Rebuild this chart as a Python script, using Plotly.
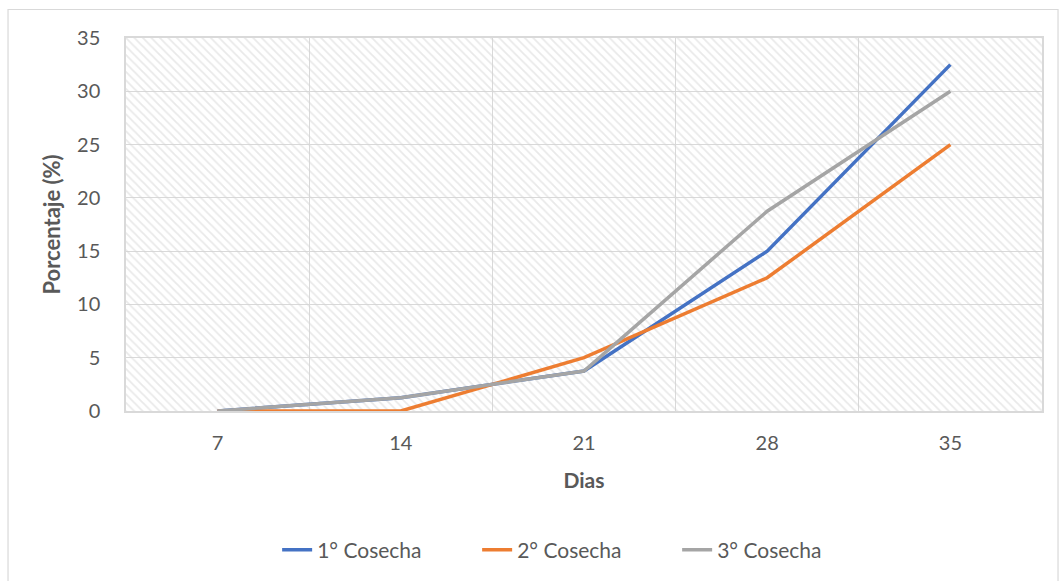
import plotly.graph_objects as go

# Days after harvest and accumulated percentage per harvest
dias = ["7", "14", "21", "28", "35"]
cosecha_1 = [0, 1.25, 3.75, 15, 32.5]
cosecha_2 = [0, 0, 5, 12.5, 25]
cosecha_3 = [0, 1.25, 3.75, 18.75, 30]
y_max = 35
y_ticks = [0, 5, 10, 15, 20, 25, 30, 35]

FONT = "Lato, Open Sans, sans-serif"
TXT = "#595959"
GRID = "#d9d9d9"

fig = go.Figure()

# hatched plot-area background
fig.add_trace(go.Bar(
    x=dias, y=[y_max] * len(dias), width=1,
    marker=dict(color="rgba(0,0,0,0)", line=dict(width=0),
                pattern=dict(shape="\\", fgcolor="#d4d4d4", bgcolor="rgba(0,0,0,0)",
                             size=6, solidity=0.3)),
    showlegend=False, hoverinfo="skip",
))

series = [
    ("1° Cosecha", cosecha_1, "#4472C4"),
    ("2° Cosecha", cosecha_2, "#ED7D31"),
    ("3° Cosecha", cosecha_3, "#A5A5A5"),
]
for name, vals, col in series:
    fig.add_trace(go.Scatter(
        x=dias, y=vals, name=name, mode="lines",
        line=dict(color=col, width=3.5),
    ))

fig.update_layout(
    width=1059, height=581,
    margin=dict(l=126, r=17, t=38, b=169),
    paper_bgcolor="white", plot_bgcolor="white",
    font=dict(family=FONT, size=18, color=TXT),
    bargap=0,
    showlegend=True,
    legend=dict(orientation="h", x=0.165, xanchor="left", y=-0.369, yanchor="middle",
                font=dict(size=21, color=TXT), entrywidth=155, entrywidthmode="pixels",
                tracegroupgap=0),
    shapes=[dict(type="rect", xref="paper", yref="paper",
                 x0=-0.1288, x1=1.0175, y0=-0.6, y1=1.0764,
                 line=dict(color=GRID, width=1.2), layer="below")],
)

fig.update_xaxes(
    type="category", tickson="boundaries", range=[-0.5, len(dias) - 0.5],
    showgrid=True, gridcolor=GRID, gridwidth=1,
    showline=True, linecolor=GRID, linewidth=1.5, mirror=True,
    ticks="", ticklabelstandoff=13,
    tickfont=dict(size=20, color=TXT),
    title=dict(text="<b>Dias</b>", font=dict(size=21, color=TXT), standoff=21),
    zeroline=False,
)
fig.update_yaxes(
    range=[0, y_max], tickvals=y_ticks,
    showgrid=True, gridcolor=GRID, gridwidth=1,
    showline=True, linecolor=GRID, linewidth=1.5, mirror=True,
    ticks="", ticklabelstandoff=20,
    tickfont=dict(size=20, color=TXT),
    title=dict(text="<b>Porcentaje (%)</b>", font=dict(size=22, color=TXT), standoff=10),
    zeroline=False,
)

fig.write_html("out.html")
